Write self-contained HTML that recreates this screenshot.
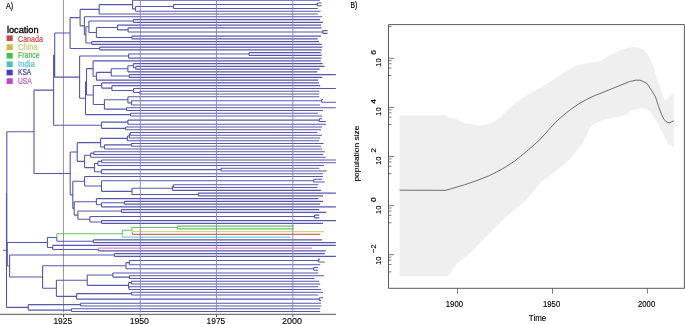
<!DOCTYPE html>
<html><head><meta charset="utf-8"><style>
html,body{margin:0;padding:0;background:#fff;}
body{width:685px;height:324px;overflow:hidden;}
svg{display:block;font-family:"Liberation Sans",sans-serif;will-change:transform;}
</style></head><body>
<svg width="685" height="324" viewBox="0 0 685 324">
<rect width="685" height="324" fill="#fff"/>
<!-- panel A -->
<defs><filter id="soft" x="-1%" y="-1%" width="102%" height="102%"><feGaussianBlur stdDeviation="0.4"/></filter></defs>
<path d="M63.45 0V312.5" stroke="#8a8a8a" stroke-width="0.9"/>
<g fill="none" stroke-width="1.1" stroke-linecap="butt" filter="url(#soft)">
<path d="M3.1 250.2H6.5M6.5 250.2V193.03M6.5 193.03H6.8M6.8 193.03V131.8M6.8 131.8H34M34 131.8V90.17M34 90.17H53.6M53.6 90.17V55.08M53.6 55.08H54.7M54.7 55.08V33.04M54.7 33.04H70.1M70.1 33.04V17.59M70.1 17.59H80.1M80.1 17.59V9.34M80.1 9.34H99.2M99.2 9.34V4.6M99.2 4.6H132.6M132.6 4.6V0.3M132.6 0.3H319.8M132.6 4.6V8.91M132.6 8.91H135.5M135.5 8.91V6.5M135.5 6.5H173.5M173.5 6.5V4.43M173.5 4.43H317.3M317.3 4.43V3.05M317.3 3.05H321.6M317.3 4.43V5.81M317.3 5.81H321.6M173.5 6.5V8.56M173.5 8.56H317.7M135.5 8.91V11.32M135.5 11.32H320.6M99.2 9.34V14.07M99.2 14.07H317.9M80.1 17.59V25.84M80.1 25.84H84.4M84.4 25.84V16.82M84.4 16.82H322.2M84.4 25.84V34.85M84.4 34.85H85.9M85.9 34.85V26.72M85.9 26.72H88.9M88.9 26.72V20.95M88.9 20.95H133.3M133.3 20.95V19.58M133.3 19.58H320.1M133.3 20.95V22.33M133.3 22.33H323.1M88.9 26.72V32.49M88.9 32.49H96.4M96.4 32.49V27.5M96.4 27.5H117.5M117.5 27.5V25.09M117.5 25.09H321M117.5 27.5V29.91M117.5 29.91H128.1M128.1 29.91V27.84M128.1 27.84H321.6M128.1 29.91V31.97M128.1 31.97H322.8M322.8 31.97V30.59M322.8 30.59H327.5M322.8 31.97V33.35M322.8 33.35H327.5M96.4 32.49V37.48M96.4 37.48H131.9M131.9 37.48V36.1M131.9 36.1H321M131.9 37.48V38.86M131.9 38.86H317.7M85.9 34.85V42.99M85.9 42.99H91.7M91.7 42.99V41.61M91.7 41.61H319M91.7 42.99V44.36M91.7 44.36H321.7M70.1 33.04V48.49M70.1 48.49H99.7M99.7 48.49V47.12M99.7 47.12H322.3M99.7 48.49V49.87M99.7 49.87H321.7M54.7 55.08V77.13M54.7 77.13H79.6M79.6 77.13V56.07M79.6 56.07H128.6M128.6 56.07V54M128.6 54H249M249 54V52.63M249 52.63H320.8M249 54V55.38M249 55.38H321.7M128.6 56.07V58.13M128.6 58.13H321.4M79.6 77.13V98.19M79.6 98.19H85.5M85.5 98.19V81.78M85.5 81.78H86.5M86.5 81.78V68.59M86.5 68.59H93.1M93.1 68.59V60.89M93.1 60.89H320.8M93.1 68.59V76.29M93.1 76.29H96.4M96.4 76.29V72.42M96.4 72.42H111.2M111.2 72.42V68.81M111.2 68.81H127.9M127.9 68.81V65.71M127.9 65.71H133.4M133.4 65.71V63.64M133.4 63.64H322.8M133.4 65.71V67.77M133.4 67.77H135.7M135.7 67.77V66.4M135.7 66.4H324.5M135.7 67.77V69.15M135.7 69.15H319.7M127.9 68.81V71.9M127.9 71.9H317.4M111.2 72.42V76.03M111.2 76.03H129.3M129.3 76.03V74.66M129.3 74.66H335.9M129.3 76.03V77.41M129.3 77.41H322.3M96.4 76.29V80.17M96.4 80.17H318.2M86.5 81.78V94.97M86.5 94.97H93.3M93.3 94.97V85.5M93.3 85.5H101.7M101.7 85.5V82.92M101.7 82.92H319M101.7 85.5V88.08M101.7 88.08H111.9M111.9 88.08V85.67M111.9 85.67H320.2M111.9 88.08V90.49M111.9 90.49H133.5M133.5 90.49V88.43M133.5 88.43H335.9M133.5 90.49V92.56M133.5 92.56H139.9M139.9 92.56V91.18M139.9 91.18H319.3M139.9 92.56V93.94M139.9 93.94H319.3M93.3 94.97V104.44M93.3 104.44H104.4M104.4 104.44V99.79M104.4 99.79H127.9M127.9 99.79V96.69M127.9 96.69H319.3M127.9 99.79V102.89M127.9 102.89H131.6M131.6 102.89V100.82M131.6 100.82H321.7M321.7 100.82V99.44M321.7 99.44H323M321.7 100.82V102.2M321.7 102.2H335.9M131.6 102.89V104.95M131.6 104.95H320.2M104.4 104.44V109.08M104.4 109.08H126.5M126.5 109.08V107.71M126.5 107.71H335.9M126.5 109.08V110.46M126.5 110.46H323M85.5 98.19V114.59M85.5 114.59H130.6M130.6 114.59V113.21M130.6 113.21H318M130.6 114.59V115.97M130.6 115.97H322M53.6 90.17V125.26M53.6 125.26H101.5M101.5 125.26V122.16M101.5 122.16H127.9M127.9 122.16V120.1M127.9 120.1H319.3M319.3 120.1V118.72M319.3 118.72H322M319.3 120.1V121.48M319.3 121.48H325.7M127.9 122.16V124.23M127.9 124.23H326M101.5 125.26V128.36M101.5 128.36H125.6M125.6 128.36V126.98M125.6 126.98H322M125.6 128.36V129.74M125.6 129.74H321M34 131.8V173.44M34 173.44H70.2M70.2 173.44V152.03M70.2 152.03H77.2M77.2 152.03V142.65M77.2 142.65H100.6M100.6 142.65V138.34M100.6 138.34H127.4M127.4 138.34V135.93M127.4 135.93H129.3M129.3 135.93V133.87M129.3 133.87H130.2M130.2 133.87V132.49M130.2 132.49H317.4M130.2 133.87V135.25M130.2 135.25H322M129.3 135.93V138M129.3 138H320.2M127.4 138.34V140.75M127.4 140.75H319.3M100.6 142.65V146.95M100.6 146.95H104.4M104.4 146.95V144.88M104.4 144.88H131.2M131.2 144.88V143.51M131.2 143.51H323.5M131.2 144.88V146.26M131.2 146.26H321.1M104.4 146.95V149.02M104.4 149.02H322M77.2 152.03V161.41M77.2 161.41H84.6M84.6 161.41V155.21M84.6 155.21H90.6M90.6 155.21V153.15M90.6 153.15H93.7M93.7 153.15V151.77M93.7 151.77H324.8M93.7 153.15V154.52M93.7 154.52H323M90.6 155.21V157.28M90.6 157.28H325.7M84.6 161.41V167.61M84.6 167.61H94.5M94.5 167.61V163.47M94.5 163.47H97.9M97.9 163.47V161.41M97.9 161.41H101.6M101.6 161.41V160.03M101.6 160.03H335.9M101.6 161.41V162.79M101.6 162.79H335.9M97.9 163.47V165.54M97.9 165.54H323.9M94.5 167.61V171.74M94.5 171.74H101.4M101.4 171.74V169.67M101.4 169.67H221M221 169.67V168.29M221 168.29H319.3M221 169.67V171.05M221 171.05H326.7M101.4 171.74V173.8M101.4 173.8H323M70.2 173.44V194.84M70.2 194.84H72.8M72.8 194.84V181.29M72.8 181.29H84.6M84.6 181.29V176.56M84.6 176.56H323M84.6 181.29V186.02M84.6 186.02H101.5M101.5 186.02V180.69M101.5 180.69H313.7M313.7 180.69V179.31M313.7 179.31H322M313.7 180.69V182.06M313.7 182.06H324.8M101.5 186.02V191.36M101.5 191.36H132M132 191.36V188.26M132 188.26H172.4M172.4 188.26V186.19M172.4 186.19H173.5M173.5 186.19V184.82M173.5 184.82H318.3M173.5 186.19V187.57M173.5 187.57H317.4M172.4 188.26V190.33M172.4 190.33H321.1M132 191.36V194.46M132 194.46H198.3M198.3 194.46V193.08M198.3 193.08H335.9M198.3 194.46V195.83M198.3 195.83H323M72.8 194.84V208.4M72.8 208.4H74.2M74.2 208.4V201.69M74.2 201.69H96.4M96.4 201.69V198.59M96.4 198.59H318.3M96.4 201.69V204.78M96.4 204.78H101.5M101.5 204.78V202.72M101.5 202.72H124.4M124.4 202.72V201.34M124.4 201.34H323M124.4 202.72V204.1M124.4 204.1H320.2M101.5 204.78V206.85M101.5 206.85H335.9M74.2 208.4V215.11M74.2 215.11H77.9M77.9 215.11V210.98M77.9 210.98H121.4M121.4 210.98V209.6M121.4 209.6H319.3M121.4 210.98V212.36M121.4 212.36H326M77.9 215.11V219.24M77.9 219.24H89.9M89.9 219.24V216.49M89.9 216.49H314.6M314.6 216.49V215.11M314.6 215.11H319.3M314.6 216.49V217.87M314.6 217.87H319.3M89.9 219.24V222M89.9 222H101.5M101.5 222V220.62M101.5 220.62H335.9M101.5 222V223.37M101.5 223.37H323M6.8 193.03V254.25M6.8 254.25H7.3M7.3 254.25V242.48M7.3 242.48H47.4M47.4 242.48V237.49M47.4 237.49H56.8M56.8 237.49V241.28M56.8 241.28H93.3M93.3 241.28V239.9M93.3 239.9H322M93.3 241.28V242.65M93.3 242.65H335.9M47.4 242.48V247.47M47.4 247.47H52.7M52.7 247.47V245.41M52.7 245.41H335.9M52.7 247.47V249.54M52.7 249.54H98.6M98.6 249.54V250.91M98.6 250.91H325.7M7.3 254.25V266.02M7.3 266.02H9.6M9.6 266.02V255.05M9.6 255.05H114.4M114.4 255.05V253.67M114.4 253.67H324.8M114.4 255.05V256.42M114.4 256.42H335.9M9.6 266.02V276.99M9.6 276.99H42.6M42.6 276.99V265.72M42.6 265.72H126M126 265.72V262.62M126 262.62H129.4M129.4 262.62V260.55M129.4 260.55H318.3M318.3 260.55V259.18M318.3 259.18H320.2M318.3 260.55V261.93M318.3 261.93H324.8M129.4 262.62V264.68M129.4 264.68H320.2M126 265.72V268.81M126 268.81H313.7M313.7 268.81V267.44M313.7 267.44H318M313.7 268.81V270.19M313.7 270.19H318M42.6 276.99V288.27M42.6 288.27H56.4M56.4 288.27V280.18M56.4 280.18H87.2M87.2 280.18V275.01M87.2 275.01H112.8M112.8 275.01V272.95M112.8 272.95H318.3M112.8 275.01V277.08M112.8 277.08H129.4M129.4 277.08V275.7M129.4 275.7H323.9M129.4 277.08V278.45M129.4 278.45H314.6M87.2 280.18V285.34M87.2 285.34H128.6M128.6 285.34V282.59M128.6 282.59H131.4M131.4 282.59V281.21M131.4 281.21H319.3M131.4 282.59V283.96M131.4 283.96H320.2M128.6 285.34V288.09M128.6 288.09H129M129 288.09V286.72M129 286.72H318.3M129 288.09V289.47M129 289.47H321.1M56.4 288.27V296.36M56.4 296.36H76.6M76.6 296.36V293.6M76.6 293.6H131.4M131.4 293.6V292.22M131.4 292.22H323M131.4 293.6V294.98M131.4 294.98H318.3M76.6 296.36V299.11M76.6 299.11H319.3M319.3 299.11V297.73M319.3 297.73H323M319.3 299.11V300.49M319.3 300.49H321.1M6.5 250.2V307.37M6.5 307.37H28.3M28.3 307.37V304.62M28.3 304.62H80.6M80.6 304.62V303.24M80.6 303.24H321.1M80.6 304.62V305.99M80.6 305.99H321.1M28.3 307.37V310.12M28.3 310.12H71.4M71.4 310.12V308.75M71.4 308.75H320.2M71.4 310.12V311.5M71.4 311.5H320.2" stroke="#5757ac"/>
<path d="M56.8 237.49V233.7M56.8 233.7H122.2M122.2 233.7V230.26M122.2 230.26H131.8M131.8 230.26V227.5M131.8 227.5H177.6M177.6 227.5V226.13M177.6 226.13H293.9M177.6 227.5V228.88M177.6 228.88H293.9" stroke="#66c266"/>
<path d="M131.8 230.26V233.01M131.8 233.01H132.4M132.4 233.01V231.64M132.4 231.64H323.9" stroke="#d6d27e"/>
<path d="M132.4 233.01V234.39M132.4 234.39H320.2" stroke="#c86e60"/>
<path d="M122.2 233.7V237.14M122.2 237.14H290.6" stroke="#78d0da"/>
<path d="M98.6 249.54V248.16M98.6 248.16H311.9" stroke="#d88ad0"/>
</g>
<path d="M140.3 0V312.5M216.45 0V312.5M292.85 0V312.5" stroke="#8585b5" stroke-width="0.9" filter="url(#soft)"/>
<path d="M0 314.3H336M63.5 314.3V317M140.3 314.3V317M216.5 314.3V317M292.8 314.3V317" stroke="#555" stroke-width="1" fill="none"/>
<g font-size="9" fill="#000" stroke="#000" stroke-width="0.12" text-anchor="middle">
<text x="62.8" y="323.6" textLength="18.8" lengthAdjust="spacingAndGlyphs">1925</text>
<text x="139.3" y="323.6" textLength="19.3" lengthAdjust="spacingAndGlyphs">1950</text>
<text x="215.9" y="323.6" textLength="18.6" lengthAdjust="spacingAndGlyphs">1975</text>
<text x="292" y="323.6" textLength="20" lengthAdjust="spacingAndGlyphs">2000</text>
</g>
<text x="6" y="8.8" font-size="8.4" fill="#000" stroke="#000" stroke-width="0.2" textLength="7.2" lengthAdjust="spacingAndGlyphs">A)</text>
<text x="6.9" y="33.1" font-size="8.4" fill="#000" stroke="#000" stroke-width="0.3" textLength="31.7" lengthAdjust="spacingAndGlyphs">location</text>
<g>
<rect x="6.6" y="35.4" width="6.1" height="5.6" fill="#c84848"/>
<rect x="6.6" y="44.3" width="6.1" height="5.7" fill="#c8c040"/>
<rect x="6.6" y="53.0" width="6.1" height="5.6" fill="#48c048"/>
<rect x="6.6" y="61.4" width="6.1" height="5.7" fill="#48c0c4"/>
<rect x="6.6" y="69.7" width="6.1" height="5.7" fill="#4040b8"/>
<rect x="6.6" y="78.3" width="6.1" height="5.7" fill="#c048c8"/>
</g>
<g font-size="8.2" stroke-width="0.22">
<text x="18" y="41.7" fill="#c85050" stroke="#c85050" textLength="24.9" lengthAdjust="spacingAndGlyphs">Canada</text>
<text x="18" y="50" fill="#d2ca74" stroke="#d2ca74" textLength="19.8" lengthAdjust="spacingAndGlyphs">China</text>
<text x="18" y="58.4" fill="#52bc52" stroke="#52bc52" textLength="21.7" lengthAdjust="spacingAndGlyphs">France</text>
<text x="18" y="66.9" fill="#58c4d4" stroke="#58c4d4" textLength="16.9" lengthAdjust="spacingAndGlyphs">India</text>
<text x="18" y="75.4" fill="#4444ac" stroke="#4444ac" textLength="13.3" lengthAdjust="spacingAndGlyphs">KSA</text>
<text x="18" y="84.1" fill="#c058c4" stroke="#c058c4" textLength="13.7" lengthAdjust="spacingAndGlyphs">USA</text>
</g>
<!-- panel B -->
<text x="350.4" y="8.3" font-size="8.2" fill="#000" stroke="#000" stroke-width="0.2" textLength="6.8" lengthAdjust="spacingAndGlyphs">B)</text>
<path d="M399.5 115.3L445 115.3L450 118L455 118L460 121L466 123.8L469 123.4L476 125.5L486 124.8L493 122L500 117.8L506 111.5L514 104.5L522 98.6L530 93.5L537 89.5L545 85L552.5 80.3L560 75.5L568 70L575 66.5L583 64L592 62.5L600 61.5L606 57.5L614 53L623 49.5L630 47.3L634 47L638 47.5L643 49.5L647 53L650 58.5L654 68L657 79L660 87L662.5 95L664.5 100.5L667 99L670 96L674 92.5L674 148L670.5 145L667.8 143.7L662.2 132.6L656.7 121.5L651.1 112.2L645.6 108.5L638.1 108.5L630.7 111.3L623.3 115.9L614.1 117.4L604.8 119.6L595.6 123.3L590 127L587.6 133.8L581.1 144.6L577.1 150L572.5 156.2L566.3 163.1L558.6 168.5L550.9 175.5L543.1 180.1L535.4 188.6L526.2 200L521.5 204L506.7 216.3L491.9 231L477 246L472 251.5L466 256.5L460 261L455 266L452.5 270L450 274.3L447.5 276L445 276.2L399.5 276.2Z" fill="#efefef"/>
<path d="M399.5 190.2L446 190.3L464.7 184.7L477 180.5L489.4 175.6L501.7 169.4L514.1 161.5L526.4 151.6L539.5 140L547.7 130.9L555.4 122.4L563.1 115.5L570.9 109.3L578.6 103.9L586.3 99.6L594 95.9L600 93.6L606.3 91L614.1 87.8L621.8 84.7L629.5 81.6L635.7 80.2L640 80.2L643.3 81.5L647 83.5L651.7 90.5L655.5 97L658.6 106.5L661.6 114.5L664.2 119.8L667 122.2L669.7 122.8L673.9 120.8" fill="none" stroke="#444" stroke-width="0.75"/>
<path d="M388.5 24.6H684.4V288.3H388.5Z" fill="none" stroke="#5a5a5a" stroke-width="1"/>
<path d="M388.5 58.3H394M388.5 60.68H391.5M388.5 63.75H391.5M388.5 68.07H391.5M388.5 75.46H391.5M388.5 107.4H394M388.5 109.78H391.5M388.5 112.85H391.5M388.5 117.17H391.5M388.5 124.56H391.5M388.5 156.5H394M388.5 158.88H391.5M388.5 161.95H391.5M388.5 166.27H391.5M388.5 173.66H391.5M388.5 205.6H394M388.5 207.98H391.5M388.5 211.05H391.5M388.5 215.37H391.5M388.5 222.76H391.5M388.5 254.7H394M388.5 257.08H391.5M388.5 260.15H391.5M388.5 264.47H391.5M388.5 271.86H391.5M388.5 26.38H391.5M457.5 288.3V293.7M552.5 288.3V293.7M647.4 288.3V293.7" stroke="#5a5a5a" stroke-width="0.8" fill="none"/>
<g font-size="8" fill="#000" stroke="#000" stroke-width="0.15">
<g transform="translate(381.3 58.3) rotate(-90)"><text x="-8.35" y="0" textLength="8.3" lengthAdjust="spacingAndGlyphs">10</text><text x="3.65" y="-5.6" textLength="4.7" lengthAdjust="spacingAndGlyphs">6</text></g>
<g transform="translate(381.3 107.4) rotate(-90)"><text x="-8.35" y="0" textLength="8.3" lengthAdjust="spacingAndGlyphs">10</text><text x="3.65" y="-5.6" textLength="4.7" lengthAdjust="spacingAndGlyphs">4</text></g>
<g transform="translate(381.3 156.5) rotate(-90)"><text x="-8.35" y="0" textLength="8.3" lengthAdjust="spacingAndGlyphs">10</text><text x="3.65" y="-5.6" textLength="4.7" lengthAdjust="spacingAndGlyphs">2</text></g>
<g transform="translate(381.3 205.6) rotate(-90)"><text x="-8.35" y="0" textLength="8.3" lengthAdjust="spacingAndGlyphs">10</text><text x="3.65" y="-5.6" textLength="4.7" lengthAdjust="spacingAndGlyphs">0</text></g>
<g transform="translate(381.3 254.7) rotate(-90)"><text x="-10.15" y="0" textLength="8.3" lengthAdjust="spacingAndGlyphs">10</text><text x="1.85" y="-5.6" textLength="8.3" lengthAdjust="spacingAndGlyphs">−2</text></g>
</g>
<g font-size="8.4" fill="#000" stroke="#000" stroke-width="0.15" text-anchor="middle">
<text x="454.4" y="307.3" textLength="17.2" lengthAdjust="spacingAndGlyphs">1900</text>
<text x="551.6" y="307.3" textLength="17.2" lengthAdjust="spacingAndGlyphs">1950</text>
<text x="646.6" y="307.3" textLength="17.2" lengthAdjust="spacingAndGlyphs">2000</text>
<text x="537.5" y="321.1" textLength="17.3" lengthAdjust="spacingAndGlyphs">Time</text>
</g>
<text transform="translate(358.6 153.6) rotate(-90)" font-size="8" fill="#000" stroke="#000" stroke-width="0.12" text-anchor="middle" textLength="56" lengthAdjust="spacingAndGlyphs">population size</text>
</svg>
</body></html>
